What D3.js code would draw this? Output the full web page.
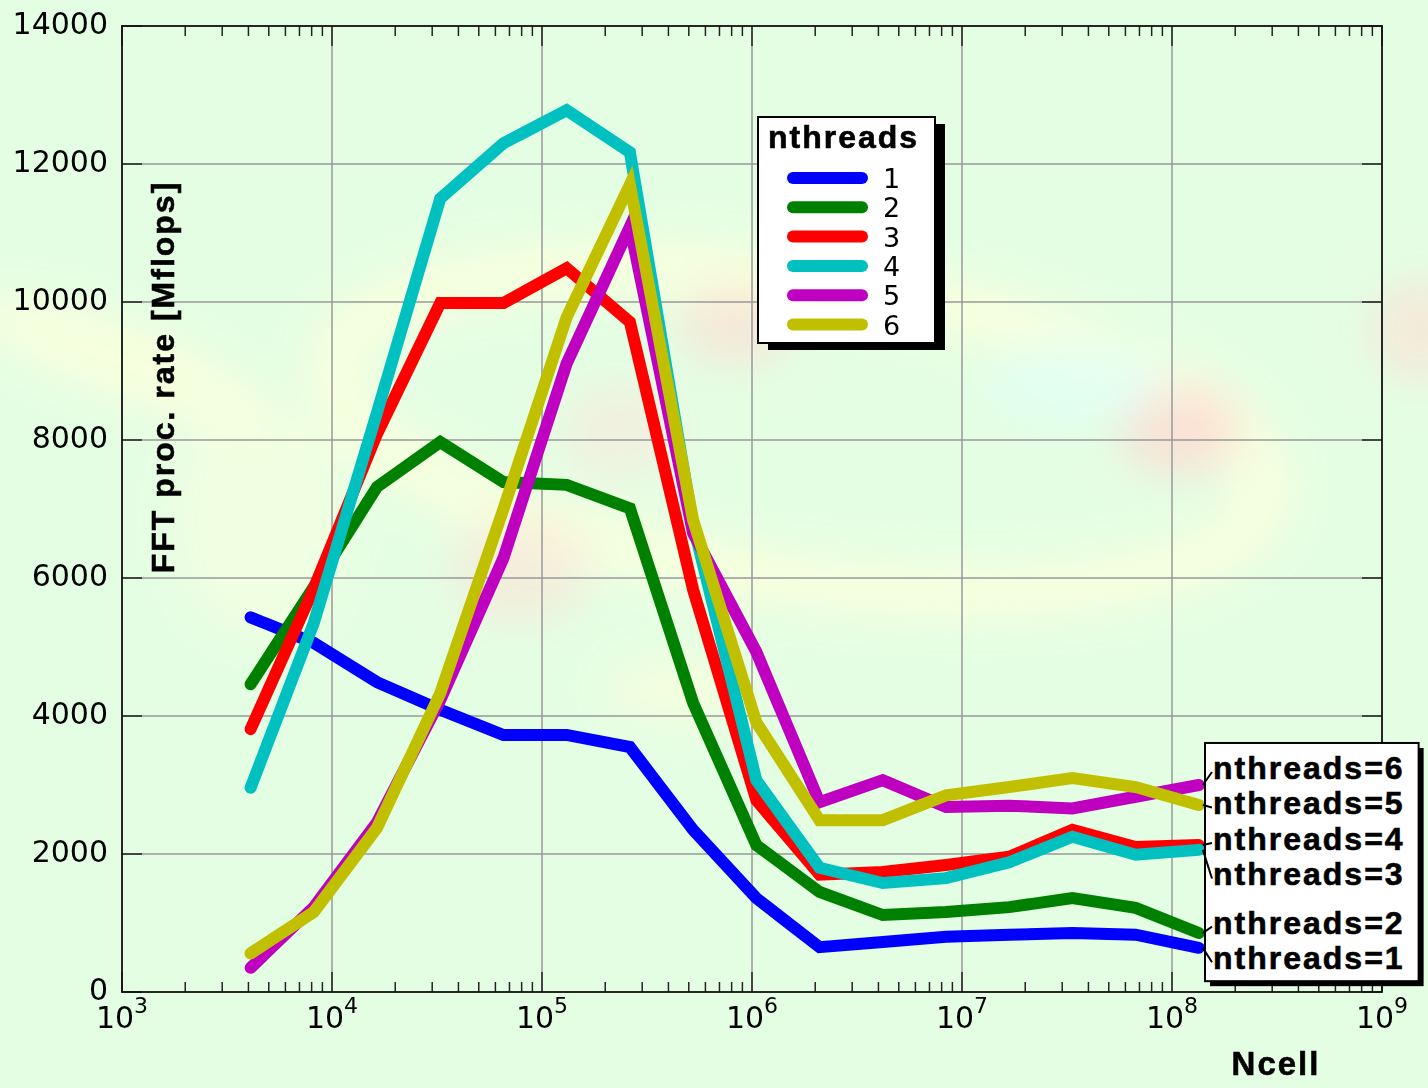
<!DOCTYPE html>
<html>
<head>
<meta charset="utf-8">
<script src="https://cdnjs.cloudflare.com/ajax/libs/d3/7.8.5/d3.min.js"></script>
<style>
  html, body { margin: 0; padding: 0; background: #e4fee4; }
  svg { display: block; }
</style>
</head>
<body>
<svg id="chart" width="1428" height="1088"></svg>
<script>
// Ncell values (2^12 .. 2^27)
const ncell = [4096, 8192, 16384, 32768, 65536, 131072, 262144, 524288, 1048576,
  2097152, 4194304, 8388608, 16777216, 33554432, 67108864, 134217728];

// FFT processing rate [Mflops] per thread count
const nthreads1 = [5430, 5060, 4490, 4090, 3725, 3725, 3550, 2350, 1360, 650, 725, 800, 830, 855, 830, 640];
const nthreads2 = [4460, 5870, 7320, 7970, 7390, 7350, 7010, 4190, 2130, 1450, 1115, 1160, 1230, 1360, 1220, 855];
const nthreads3 = [3810, 5850, 8090, 9985, 9985, 10490, 9710, 5830, 2780, 1700, 1740, 1840, 1960, 2350, 2100, 2130];
const nthreads4 = [2960, 5350, 8400, 11500, 12300, 12780, 12170, 6770, 3070, 1800, 1580, 1650, 1880, 2250, 1990, 2060];
const nthreads5 = [350, 1230, 2460, 4230, 6290, 9110, 11090, 6650, 4930, 2750, 3070, 2680, 2700, 2660, 2830, 3000];
const nthreads6 = [560, 1160, 2380, 4330, 7000, 9780, 11700, 6840, 3910, 2490, 2490, 2850, 2970, 3100, 2970, 2710];

const legendNames = ["1", "2", "3", "4", "5", "6"];
const colors = ["#0000ff", "#008000", "#ff0000", "#00c0c0", "#c000c0", "#c0c000"];
// end labels, top to bottom
const endLabels = ["nthreads=6", "nthreads=5", "nthreads=4", "nthreads=3", "nthreads=2", "nthreads=1"];

const yTicks = [0, 2000, 4000, 6000, 8000, 10000, 12000, 14000];
const xDecades = [3, 4, 5, 6, 7, 8, 9];

const series = [nthreads1, nthreads2, nthreads3, nthreads4, nthreads5, nthreads6];

const svg = d3.select("#chart");
const W = 1428, H = 1088;
const mLeft = 122, mRight = 1382, mTop = 26, mBottom = 992;

const x = d3.scaleLog().domain([1e3, 1e9]).range([mLeft, mRight]);
const y = d3.scaleLinear().domain([0, 14000]).range([mBottom, mTop]);

const boldFont = "'Liberation Sans', Arial, sans-serif";
const numFont = "'DejaVu Sans', sans-serif";

// bold text helper (slightly heavier than plain bold)
function bold(sel, size) {
  return sel.attr("font-family", boldFont).attr("font-weight", "bold").attr("font-size", size)
    .attr("letter-spacing", 2).attr("fill", "#000").attr("stroke", "#000").attr("stroke-width", 0.6);
}

// faint watercolor background
const defs = svg.append("defs");
defs.append("filter").attr("id", "soft").attr("x", "-50%").attr("y", "-50%").attr("width", "200%").attr("height", "200%")
  .append("feGaussianBlur").attr("stdDeviation", 22);

svg.append("rect").attr("width", W).attr("height", H).attr("fill", "#e4fee4");
const bg = svg.append("g").attr("filter", "url(#soft)");
bg.append("ellipse").attr("cx", 800).attr("cy", 430).attr("rx", 470).attr("ry", 150)
  .attr("transform", "rotate(8 800 430)")
  .attr("fill", "none").attr("stroke", "#fbffdc").attr("stroke-width", 60).attr("opacity", 0.8);
bg.append("ellipse").attr("cx", 1180).attr("cy", 430).attr("rx", 60).attr("ry", 45).attr("fill", "#ffd6d0").attr("opacity", 0.7);
bg.append("ellipse").attr("cx", 735).attr("cy", 325).attr("rx", 55).attr("ry", 40).attr("fill", "#ffd8d0").attr("opacity", 0.6);
bg.append("ellipse").attr("cx", 520).attr("cy", 570).attr("rx", 70).attr("ry", 55).attr("fill", "#ffe0d6").attr("opacity", 0.5);
bg.append("ellipse").attr("cx", 620).attr("cy", 430).attr("rx", 60).attr("ry", 50).attr("fill", "#ffe2da").attr("opacity", 0.45);
bg.append("ellipse").attr("cx", 1420).attr("cy", 330).attr("rx", 50).attr("ry", 50).attr("fill", "#ffdcd4").attr("opacity", 0.6);
bg.append("ellipse").attr("cx", 1080).attr("cy", 380).attr("rx", 90).attr("ry", 40).attr("fill", "#e0fff8").attr("opacity", 0.7);
bg.append("ellipse").attr("cx", 120).attr("cy", 360).attr("rx", 160).attr("ry", 40)
  .attr("transform", "rotate(20 120 360)").attr("fill", "#fbffdc").attr("opacity", 0.8);
bg.append("ellipse").attr("cx", 260).attr("cy", 520).attr("rx", 90).attr("ry", 120).attr("fill", "#f8ffe0").attr("opacity", 0.6);
bg.append("ellipse").attr("cx", 680).attr("cy", 690).attr("rx", 80).attr("ry", 40).attr("fill", "#fbffdc").attr("opacity", 0.6);

// grid
const grid = svg.append("g").attr("stroke", "#999").attr("stroke-width", 1.5);
grid.selectAll("line.gx")
  .data(xDecades.filter(d => d > 3 && d < 9))
  .enter().append("line")
  .attr("x1", d => x(Math.pow(10, d))).attr("x2", d => x(Math.pow(10, d)))
  .attr("y1", mTop).attr("y2", mBottom);
grid.selectAll("line.gy")
  .data(yTicks.filter(d => d > 0 && d < 14000))
  .enter().append("line")
  .attr("x1", mLeft).attr("x2", mRight)
  .attr("y1", d => y(d)).attr("y2", d => y(d));

// ticks
const ticks = svg.append("g").attr("stroke", "#222").attr("stroke-width", 1.5);
const minor = [];
xDecades.slice(0, -1).forEach(d => {
  for (let k = 2; k <= 9; k++) minor.push(k * Math.pow(10, d));
});
ticks.selectAll("line.minb").data(minor).enter().append("line")
  .attr("x1", d => x(d)).attr("x2", d => x(d)).attr("y1", mBottom).attr("y2", mBottom - 10);
ticks.selectAll("line.mint").data(minor).enter().append("line")
  .attr("x1", d => x(d)).attr("x2", d => x(d)).attr("y1", mTop).attr("y2", mTop + 10);
ticks.selectAll("line.majb").data(xDecades).enter().append("line")
  .attr("x1", d => x(Math.pow(10, d))).attr("x2", d => x(Math.pow(10, d))).attr("y1", mBottom).attr("y2", mBottom - 20);
ticks.selectAll("line.majt").data(xDecades).enter().append("line")
  .attr("x1", d => x(Math.pow(10, d))).attr("x2", d => x(Math.pow(10, d))).attr("y1", mTop).attr("y2", mTop + 20);
ticks.selectAll("line.yl").data(yTicks).enter().append("line")
  .attr("x1", mLeft).attr("x2", mLeft + 20).attr("y1", d => y(d)).attr("y2", d => y(d));
ticks.selectAll("line.yr").data(yTicks).enter().append("line")
  .attr("x1", mRight).attr("x2", mRight - 20).attr("y1", d => y(d)).attr("y2", d => y(d));

// border
svg.append("rect").attr("x", mLeft).attr("y", mTop).attr("width", mRight - mLeft).attr("height", mBottom - mTop)
  .attr("fill", "none").attr("stroke", "#111").attr("stroke-width", 1.8);

// tick labels
svg.selectAll("text.yt").data(yTicks).enter().append("text")
  .attr("x", mLeft - 14).attr("y", d => y(d) + 8)
  .attr("text-anchor", "end")
  .attr("font-family", numFont).attr("font-size", 30).attr("fill", "#000")
  .text(d => d);

const xt = svg.selectAll("text.xt").data(xDecades).enter().append("text")
  .attr("x", d => x(Math.pow(10, d))).attr("y", mBottom + 36)
  .attr("text-anchor", "middle")
  .attr("font-family", numFont).attr("font-size", 30).attr("fill", "#000");
xt.append("tspan").text("10");
xt.append("tspan").attr("dy", -15).attr("font-size", 22).text(d => d);

// axis titles
bold(svg.append("text"), 33)
  .attr("x", 1276).attr("y", 1075)
  .attr("text-anchor", "middle")
  .text("Ncell");
bold(svg.append("text"), 32)
  .attr("transform", "translate(174,377) rotate(-90)")
  .attr("text-anchor", "middle")
  .text("FFT proc. rate [Mflops]");

// series lines
const line = d3.line()
  .x((d, i) => x(ncell[i]))
  .y(d => y(d));

svg.append("g").selectAll("path")
  .data(series)
  .enter().append("path")
  .attr("fill", "none")
  .attr("stroke", (d, i) => colors[i])
  .attr("stroke-width", 12)
  .attr("stroke-linecap", "round")
  .attr("stroke-linejoin", "miter")
  .attr("d", line);

// legend
const lg = svg.append("g");
const lgX = 758, lgY = 117, lgW = 177, lgH = 226;
lg.append("rect").attr("x", lgX + 10).attr("y", lgY + 7).attr("width", lgW).attr("height", lgH).attr("fill", "#000");
lg.append("rect").attr("x", lgX).attr("y", lgY).attr("width", lgW).attr("height", lgH)
  .attr("fill", "#fff").attr("stroke", "#000").attr("stroke-width", 2);
bold(lg.append("text"), 32).attr("x", lgX + 10).attr("y", lgY + 31)
  .text("nthreads");
const items = lg.selectAll("g.item").data(legendNames).enter().append("g")
  .attr("transform", (d, i) => `translate(0, ${lgY + 61 + i * 29.3})`);
items.append("line")
  .attr("x1", lgX + 35).attr("x2", lgX + 104)
  .attr("stroke", (d, i) => colors[i])
  .attr("stroke-width", 12).attr("stroke-linecap", "round");
items.append("text")
  .attr("x", lgX + 125).attr("y", 10)
  .attr("font-family", numFont).attr("font-size", 27)
  .text(d => d);

// end labels: order series by last value, spread labels apart
const last = ncell.length - 1;
const order = series.map((s, i) => ({ i: i, y: y(s[last]) })).sort((a, b) => a.y - b.y);
const gap = 35.5;
let groups = order.map(o => ({ members: [o], pos: o.y }));
let merged = true;
while (merged) {
  merged = false;
  for (let g = 0; g < groups.length - 1; g++) {
    const a = groups[g], b = groups[g + 1];
    const aEnd = a.pos + (a.members.length - 1) * gap / 2;
    const bStart = b.pos - (b.members.length - 1) * gap / 2;
    if (bStart - aEnd < gap) {
      const members = a.members.concat(b.members);
      groups.splice(g, 2, { members: members, pos: d3.mean(members, m => m.y) });
      merged = true;
      break;
    }
  }
}
const placed = [];
groups.forEach(g => {
  g.members.forEach((m, k) => {
    placed.push({ i: m.i, endY: m.y, labelY: g.pos + (k - (g.members.length - 1) / 2) * gap });
  });
});

const lbX = 1213;
const lb = svg.append("g");
bold(lb.selectAll("text").data(placed).enter().append("text"), 32)
  .attr("x", lbX).attr("y", d => d.labelY + 11)
  .text((d, k) => endLabels[k]);
const bb = lb.node().getBBox();
lb.insert("rect", "text").attr("x", bb.x - 8 + 5).attr("y", bb.y - 7 + 5)
  .attr("width", bb.width + 22).attr("height", bb.height + 12).attr("fill", "#000");
lb.insert("rect", "text").attr("x", bb.x - 8).attr("y", bb.y - 7)
  .attr("width", bb.width + 22).attr("height", bb.height + 12)
  .attr("fill", "#fff").attr("stroke", "#000").attr("stroke-width", 2);
lb.selectAll("line").data(placed).enter().append("line")
  .attr("x1", x(ncell[last]) + 4).attr("y1", d => d.endY)
  .attr("x2", lbX - 1).attr("y2", d => d.labelY + 4)
  .attr("stroke", "#000").attr("stroke-width", 2);
</script>
</body>
</html>
